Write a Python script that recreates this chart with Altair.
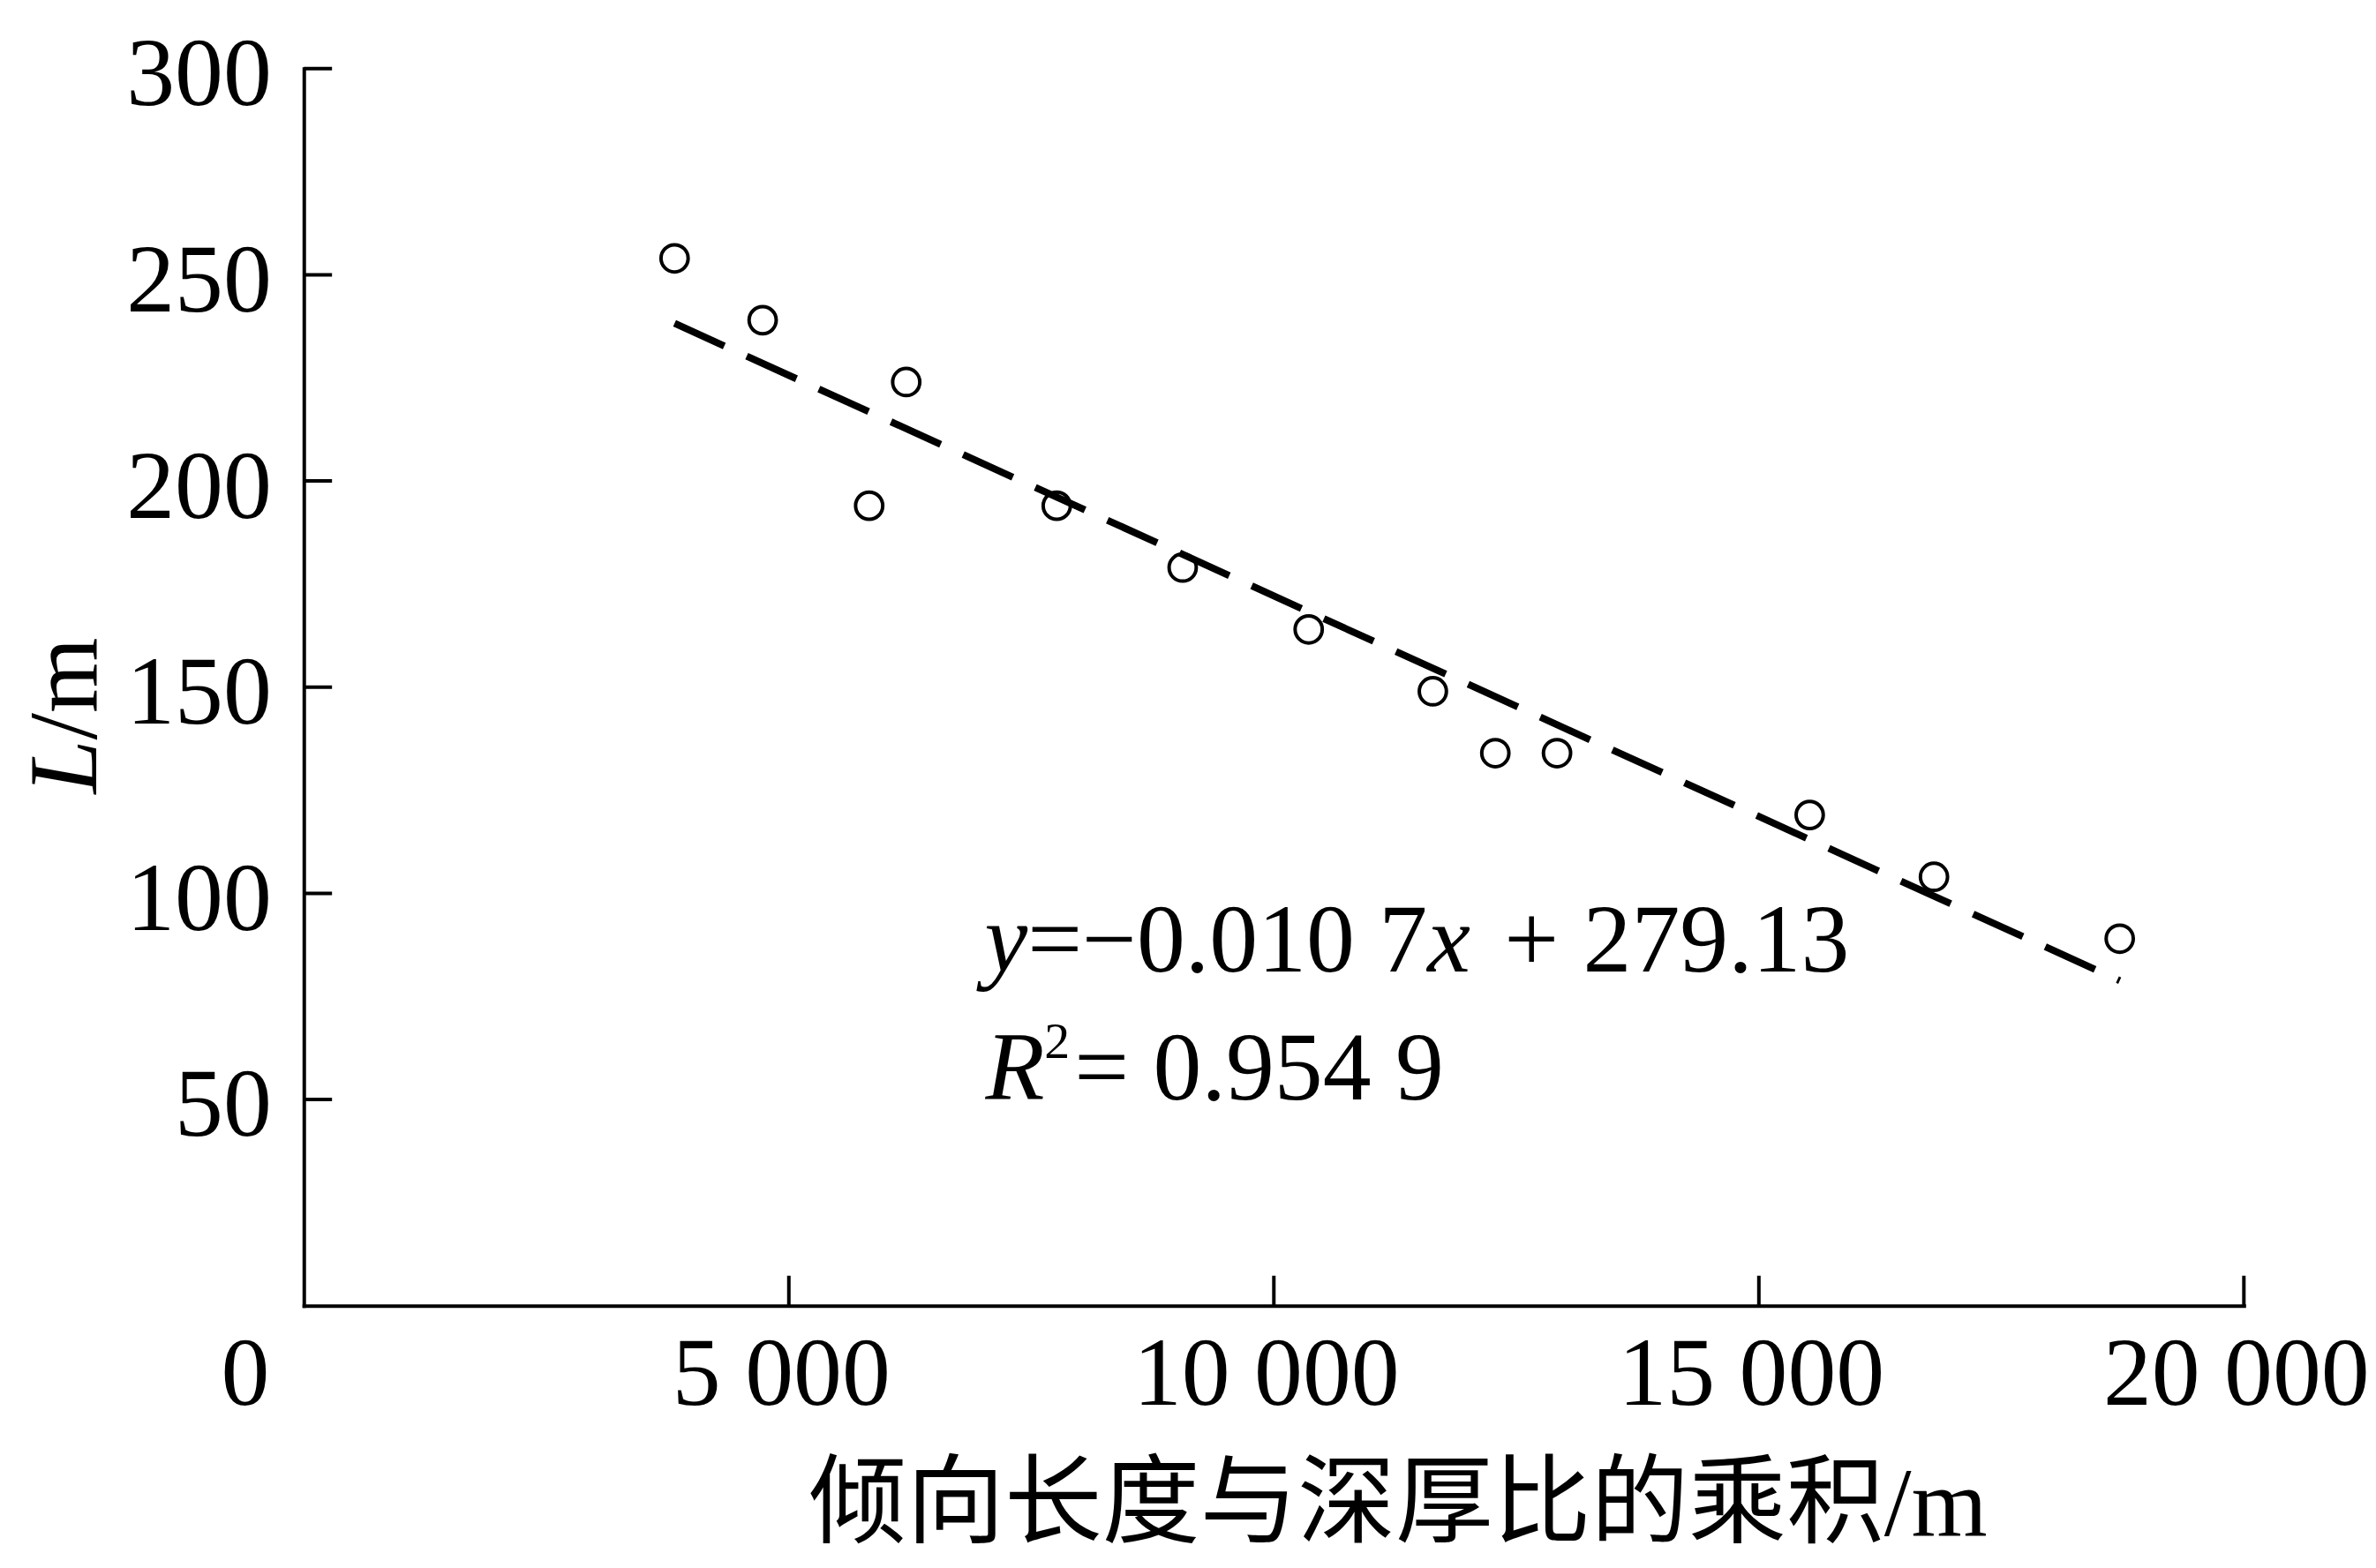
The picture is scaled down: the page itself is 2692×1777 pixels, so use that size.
import altair as alt
import pandas as pd

# ---- data ----
x_vals = [3822, 4730, 5828, 6210, 7762, 9060, 10359, 11639, 12283, 12919, 15524, 16805, 18720]
y_vals = [254, 239, 194, 224, 194, 179, 164, 149, 134, 134, 119, 104, 89]
slope = -0.0107
intercept = 279.13
x_tick_values = [0, 5000, 10000, 15000, 20000]
y_tick_values = [50, 100, 150, 200, 250, 300]
x_title = "倾向长度与深厚比的乘积/m"

W, H = 2203, 1405
FS = 110
SERIF = "Liberation Serif"

pts = pd.DataFrame({"x": x_vals, "y": y_vals})
fit = pd.DataFrame({"x": [min(x_vals), max(x_vals)]})
xt = pd.DataFrame({"x": x_tick_values[1:]})
yt = pd.DataFrame({"y": y_tick_values})

xs = alt.Scale(domain=[0, 20000], nice=False, zero=False)
ys = alt.Scale(domain=[0, 300], nice=False, zero=False)

x_axis = alt.Axis(
    values=x_tick_values,
    labelExpr="replace(format(datum.value, ','), ',', ' ')",
    labelFont=SERIF, labelFontSize=FS, labelColor="black", labelPadding=25,
    labelOffset={"condition": {"test": "datum.value === 0", "value": -67}, "value": -9},
    labelFlush=False, labelOverlap=False, labelLimit=2000,
    ticks=False, tickSize=0, grid=False,
    domainColor="black", domainWidth=4, domainCap="square",
    title=x_title, titleFont=SERIF + ", Noto Sans CJK SC", titleFontSize=111,
    titleFontWeight="normal", titleColor="black", titleLimit=3000,
    titleX=1242, titleY=260, titleAlign="center", titleBaseline="alphabetic",
)
y_axis = alt.Axis(
    values=y_tick_values,
    labelFont=SERIF, labelFontSize=FS, labelColor="black", labelPadding=37,
    labelOffset=8, labelFlush=False, labelOverlap=False, labelLimit=2000,
    ticks=False, tickSize=0, grid=False,
    domainColor="black", domainWidth=4, domainCap="square",
    title="",
)

points = alt.Chart(pts).mark_point(
    shape="circle", filled=False, color="black", size=950, strokeWidth=4, opacity=1
).encode(
    x=alt.X("x:Q", scale=xs, axis=x_axis),
    y=alt.Y("y:Q", scale=ys, axis=y_axis),
)

fit_line = alt.Chart(fit).transform_calculate(
    y=f"{slope} * datum.x + {intercept}"
).mark_line(color="black", strokeWidth=8, strokeDash=[62, 28]).encode(
    x=alt.X("x:Q", scale=xs, axis=x_axis),
    y=alt.Y("y:Q", scale=ys, axis=y_axis),
)

x_ticks = alt.Chart(xt).mark_rule(color="black", strokeWidth=4).encode(
    x=alt.X("x:Q", scale=xs, axis=x_axis),
    y=alt.value(H),
    y2=alt.value(H - 34),
)
y_ticks = alt.Chart(yt).mark_rule(color="black", strokeWidth=4).encode(
    y=alt.Y("y:Q", scale=ys, axis=y_axis),
    x=alt.value(0),
    x2=alt.value(32),
)


def txt(s, x, y, size=FS, style="normal", angle=0, align="left"):
    return alt.Chart(pd.DataFrame({"t": [s]})).mark_text(
        font=SERIF, fontSize=size, fontStyle=style, color="black",
        align=align, baseline="alphabetic", angle=angle,
    ).encode(text="t:N", x=alt.value(x), y=alt.value(y))


x0 = 773
eq1 = [
    txt("y", x0, 1025, style="italic"),
    txt("=−0.010 7", x0 + 48.8, 1025),
    txt("x", x0 + 502.9, 1025, style="italic"),
    txt("+ 279.13", x0 + 590, 1025),
]
eq2 = [
    txt("R", 774, 1171, style="italic"),
    txt("2", 841, 1124, size=58),
    txt("= 0.954 9", 875, 1171),
]
ytitle = [
    txt("L", -236, 793, style="italic", angle=270, align="center"),
    txt("/m", -236, 704.4, angle=270, align="center"),
]

chart = alt.layer(
    fit_line, points, x_ticks, y_ticks, *eq1, *eq2, *ytitle
).properties(
    width=W, height=H,
    autosize=alt.AutoSizeParams(type="none"),
    padding={"left": 337, "top": 68, "right": 142, "bottom": 290},
    background="white",
).configure_view(stroke=None)

chart.save("out.html", embed_options={"renderer": "svg", "actions": False})
